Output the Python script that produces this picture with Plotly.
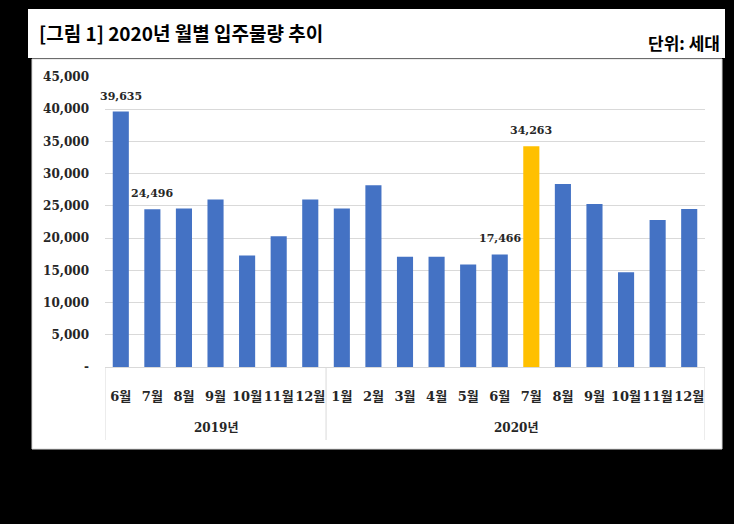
import plotly.graph_objects as go

years = ["2019년"] * 7 + ["2020년"] * 12
months = ["6월", "7월", "8월", "9월", "10월", "11월", "12월",
          "1월", "2월", "3월", "4월", "5월", "6월", "7월", "8월", "9월", "10월", "11월", "12월"]
values = [39635, 24496, 24600, 26000, 17300, 20300, 26000,
          24600, 28200, 17100, 17100, 15900, 17466, 34263, 28400, 25300, 14700, 22800, 24500]
labeled = [0, 1, 12, 13]
highlight = 13

y_ticks = [0, 5000, 10000, 15000, 20000, 25000, 30000, 35000, 40000, 45000]
y_ticktext = ["-", "5,000", "10,000", "15,000", "20,000", "25,000", "30,000", "35,000", "40,000", "45,000"]

title_text = "[그림 1] 2020년 월별 입주물량 추이"
unit_text = "단위: 세대"
note1 = "주1) 월간 자료는 2020년 6월 5일 조사 기준으로 건설사 사정에 따라 변경될 수 있음."
note2 = "주2) 임대 및 연립 제외 / 총세대수 30세대 이상 아파트 대상 (부동산114)"

BLUE = "#4472C4"
GOLD = "#FFC000"
GRID = "#D9D9D9"
FONT = "DejaVu Serif, Noto Sans CJK KR"
KFONT = "Noto Sans CJK KR"
TXT = "#262626"

pos = list(range(len(months)))
colors = [GOLD if i == highlight else BLUE for i in pos]

fig = go.Figure()
fig.add_trace(go.Bar(
    x=pos, y=values,
    marker=dict(color=colors, line=dict(width=0)),
    hoverinfo="skip",
))

def px_x(X):
    return (X - 105) / 600.0

def px_y(Y):
    return (367 - Y) / 290.0

annotations = []
for i in labeled:
    annotations.append(dict(
        text=f"{values[i]:,}", x=pos[i], y=values[i], xref="x", yref="y",
        xanchor="center", yanchor="bottom", yshift=7, showarrow=False,
        font=dict(family=FONT, size=11, color=TXT, weight="bold")))

groups = []
for i, yname in enumerate(years):
    if not groups or groups[-1][0] != yname:
        groups.append([yname, i, i])
    else:
        groups[-1][2] = i

shapes = [
    dict(type="rect", xref="paper", yref="paper", layer="below",
         x0=px_x(28), x1=px_x(725), y0=px_y(58), y1=px_y(9),
         fillcolor="white", line=dict(width=0)),
    dict(type="rect", xref="paper", yref="paper", layer="below",
         x0=px_x(32), x1=px_x(722), y0=px_y(449), y1=px_y(59),
         fillcolor="white", line=dict(color=GRID, width=1)),
]
bounds = [groups[0][1] - 0.5] + [g[2] + 0.5 for g in groups]
for b in bounds:
    shapes.append(dict(type="line", xref="x", yref="paper", x0=b, x1=b,
                       y0=0, y1=px_y(440), line=dict(color=GRID, width=1)))
for yname, a, b in groups:
    annotations.append(dict(
        text=yname, x=(a + b) / 2.0, y=px_y(428), xref="x", yref="paper",
        xanchor="center", yanchor="middle", showarrow=False,
        font=dict(family=FONT, size=12, color=TXT, weight="bold")))

annotations += [
    dict(text=title_text, xref="paper", yref="paper", x=px_x(37), y=px_y(33),
         xanchor="left", yanchor="middle", showarrow=False,
         font=dict(family=KFONT, size=19, color="black", weight="bold")),
    dict(text=unit_text, xref="paper", yref="paper", x=px_x(722), y=px_y(42),
         xanchor="right", yanchor="middle", showarrow=False,
         font=dict(family=KFONT, size=17, color="black", weight="bold")),
    dict(text=note1, xref="paper", yref="paper", x=px_x(22), y=px_y(479),
         xanchor="left", yanchor="middle", showarrow=False,
         font=dict(family=KFONT, size=14, color="black", weight="bold")),
    dict(text=note2, xref="paper", yref="paper", x=px_x(22), y=px_y(506),
         xanchor="left", yanchor="middle", showarrow=False,
         font=dict(family=KFONT, size=14, color="black", weight="bold")),
]

fig.update_layout(
    width=734, height=524,
    margin=dict(l=105, r=29, t=77, b=157),
    paper_bgcolor="black", plot_bgcolor="white",
    bargap=0.49, showlegend=False,
    font=dict(family=FONT, color=TXT),
    shapes=shapes, annotations=annotations,
)

fig.update_yaxes(
    range=[0, 45000], tickvals=y_ticks, ticktext=y_ticktext,
    showgrid=True, gridcolor=GRID, gridwidth=1,
    zeroline=False, showline=False, ticks="",
    tickfont=dict(family=FONT, size=12, color=TXT, weight="bold"),
    ticklabelstandoff=15,
)
fig.update_xaxes(
    range=[-0.5, len(months) - 0.5],
    tickvals=pos, ticktext=months, tickangle=0,
    showline=True, linecolor=GRID, linewidth=1,
    ticks="", showgrid=False, zeroline=False,
    ticklabelstandoff=17,
    tickfont=dict(family=FONT, size=13, color=TXT, weight="bold"),
)

fig.write_html("out.html", config={"displayModeBar": False},
               post_script="document.body.style.margin='0px';")
